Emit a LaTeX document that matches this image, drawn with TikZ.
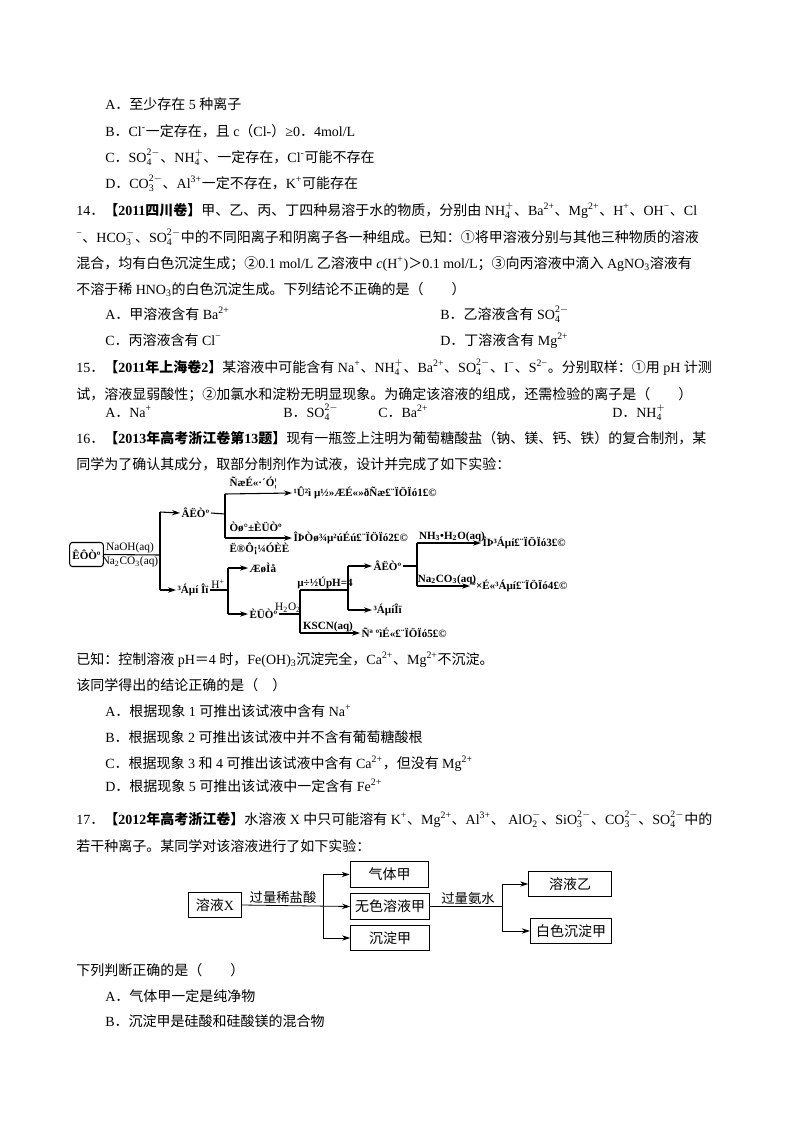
\documentclass[tikz,border=0pt]{standalone}
\usepackage{fontspec}
\setmainfont{Liberation Serif}
\newfontfamily\cjk{Noto Sans CJK SC}
\XeTeXinterchartokenstate=1
\newXeTeXintercharclass\cjkclass
\makeatletter
\count@="4E00 \loop\XeTeXcharclass\count@=\cjkclass\advance\count@ 1 \ifnum\count@<"A000 \repeat
\count@="3000 \loop\XeTeXcharclass\count@=\cjkclass\advance\count@ 1 \ifnum\count@<"3040 \repeat
\count@="FF00 \loop\XeTeXcharclass\count@=\cjkclass\advance\count@ 1 \ifnum\count@<"FF66 \repeat
\count@="2460 \loop\XeTeXcharclass\count@=\cjkclass\advance\count@ 1 \ifnum\count@<"2474 \repeat
\makeatother
\XeTeXinterchartoks 0 \cjkclass = {\cjk}
\XeTeXinterchartoks 4095 \cjkclass = {\cjk}
\XeTeXinterchartoks \cjkclass 0 = {\rmfamily}
\XeTeXinterchartoks \cjkclass 4095 = {\rmfamily}
\newcommand\up[1]{\textsuperscript{#1}}
\newcommand\dn[1]{\textsubscript{#1}}
\newcommand\ud[2]{$^{\mathrm{#1}}_{\mathrm{#2}}$}
\usetikzlibrary{arrows.meta}
\begin{document}
\begin{tikzpicture}[x=0.75pt,y=-0.75pt,
 t/.style={anchor=base west,inner sep=0,font=\fontsize{10.5pt}{12pt}\selectfont},
 g/.style={anchor=west,inner sep=1pt,font=\bfseries\fontsize{8.3pt}{9pt}\selectfont},
 gl/.style={inner sep=1pt,font=\fontsize{8.5pt}{9pt}\selectfont},
 ar/.style={-{Stealth[length=6pt,width=4pt]},line width=0.8pt},
 ln/.style={line width=0.8pt},
 bx/.style={draw,line width=0.8pt,minimum height=19pt,inner sep=2pt,font=\fontsize{10.5pt}{12pt}\selectfont},
 ar2/.style={-{Stealth[length=6pt,width=4pt]},line width=0.6pt}]
\useasboundingbox (0,0) rectangle (800,1132);
% Question block 13 options
\node[t] (l1) at (105,109) {A．至少存在 5 种离子};
\node[t] (l2) at (105,136) {B．Cl\up{-}一定存在，且 c（Cl-）≥0．4mol/L};
\node[t] (l3) at (105,162) {C．SO\ud{2-}{4}、NH\ud{+}{4}、一定存在，Cl\up{-}可能不存在};
\node[t] (l4) at (105,188) {D．CO\ud{2-}{3}、Al\up{3+}一定不存在，K\up{+}可能存在};
% 14
\node[t] (q14a) at (76,215) {14．{\bfseries【2011四川卷】}甲、乙、丙、丁四种易溶于水的物质，分别由 NH\ud{+}{4}、Ba\up{2+}、Mg\up{2+}、H\up{+}、OH\up{−}、Cl};
\node[t] (q14b) at (76,242) {\up{−}、HCO\ud{-}{3}、SO\ud{2-}{4}中的不同阳离子和阴离子各一种组成。已知：①将甲溶液分别与其他三种物质的溶液};
\node[t] (q14c) at (76,268) {混合，均有白色沉淀生成；②0.1 mol/L 乙溶液中 \textit{c}(H\up{+})＞0.1 mol/L；③向丙溶液中滴入 AgNO\dn{3}溶液有};
\node[t] (q14d) at (76,294) {不溶于稀 HNO\dn{3}的白色沉淀生成。下列结论不正确的是（　　）};
\node[t] (q14A) at (105,319) {A．甲溶液含有 Ba\up{2+}};
\node[t] (q14B) at (440,319) {B．乙溶液含有 SO\ud{2-}{4}};
\node[t] (q14C) at (105,345) {C．丙溶液含有 Cl\up{−}};
\node[t] (q14D) at (440,345) {D．丁溶液含有 Mg\up{2+}};
% 15
\node[t] (q15a) at (76,372) {15．{\bfseries【2011年上海卷2】}某溶液中可能含有 Na\up{+}、NH\ud{+}{4}、Ba\up{2+}、SO\ud{2-}{4}、I\up{−}、S\up{2−}。分别取样：①用 pH 计测};
\node[t] (q15b) at (76,399) {试，溶液显弱酸性；②加氯水和淀粉无明显现象。为确定该溶液的组成，还需检验的离子是（　　）};
\node[t] (q15A) at (105,417) {A．Na\up{+}};
\node[t] (q15B) at (283,417) {B．SO\ud{2-}{4}};
\node[t] (q15C) at (378,417) {C．Ba\up{2+}};
\node[t] (q15D) at (612,417) {D．NH\ud{+}{4}};
% 16
\node[t] (q16a) at (76,443) {16．{\bfseries【2013年高考浙江卷第13题】}现有一瓶签上注明为葡萄糖酸盐（钠、镁、钙、铁）的复合制剂，某};
\node[t] (q16b) at (76,469) {同学为了确认其成分，取部分制剂作为试液，设计并完成了如下实验：};
% diagram 1
\node[draw,rounded corners=2pt,line width=0.8pt,inner sep=2pt,minimum height=18pt,font=\bfseries\fontsize{8.3pt}{9pt}\selectfont] (sy) at (86.5,554.5) {ÊÔÒº};
\coordinate (j1) at (160,555);
\draw[ln] (sy.east) -- (j1);
\node[gl,above] at (130,555) {NaOH(aq)};
\node[gl,below] at (130,555) {Na\dn{2}CO\dn{3}(aq)};
\node[g] (ly1) at (180,513) {ÂËÒº};
\node[g] (cd1) at (176,590) {³Áµí Îï};
\draw[ln] (160,512) -- (160,590);
\draw[ar] (160,512) -- (ly1.west);
\draw[ar] (160,590) -- (cd1.west);
\coordinate (j2) at (225,514);
\draw[ln] (ly1.east) -- (j2);
\draw[ln] (225,494) -- (225,538);
\node[g] (x1) at (292,493) {¹Û²ì µ½»ÆÉ«»ðÑæ£¨ÏÖÏó1£©};
\node[g] (x2) at (292,538) {ÎÞÒø¾µ²úÉú£¨ÏÖÏó2£©};
\draw[ar] (225,494) -- (x1.west);
\draw[ar] (225,538) -- (x2.west);
\node[g] at (228,483) {ÑæÉ«·´Ó¦};
\node[g] at (228,527) {Òø°±ÈÜÒº};
\node[g] at (228,549) {Ë®Ô¡¼ÓÈÈ};
\node[gl,above] at (218,590) {H\up{+}};
\draw[ln] (cd1.east) -- (228,590);
\draw[ln] (228,568) -- (228,614);
\node[g] (qt) at (248,568) {ÆøÌå};
\node[g] (ry) at (248,614) {ÈÜÒº};
\draw[ar] (228,568) -- (qt.west);
\draw[ar] (228,614) -- (ry.west);
\draw[ln] (ry.east) -- (300,614);
\node[gl,above] at (288,614) {H\dn{2}O\dn{2}};
\draw[ln] (300,590) -- (300,633);
\draw[ln] (300,590) -- (348,590);
\node[g,above] at (325,590) {µ÷½ÚpH=4};
\draw[ln] (348,566) -- (348,610);
\node[g] (ly2) at (372,566) {ÂËÒº};
\node[g] (cd2) at (372,610) {³ÁµíÎï};
\draw[ar] (348,566) -- (ly2.west);
\draw[ar] (348,610) -- (cd2.west);
\node[g] (x5) at (360,633) {Ñª ºìÉ«£¨ÏÖÏó5£©};
\draw[ar] (300,633) -- (x5.west);
\node[g,above] at (328,633) {KSCN(aq)};
\draw[ln] (ly2.east) -- (417,566);
\draw[ln] (417,543) -- (417,586);
\node[g] (x3) at (481,543) {ÎÞ³Áµí£¨ÏÖÏó3£©};
\node[g] (x4) at (470,586) {°×É«³Áµí£¨ÏÖÏó4£©};
\draw[ar] (417,543) -- (x3.west);
\draw[ar] (417,586) -- (x4.west);
\node[g,above] at (452,543) {NH\dn{3}•H\dn{2}O(aq)};
\node[g,above] at (447,586) {Na\dn{2}CO\dn{3}(aq)};
% after
\node[t] (k1) at (76,664) {已知：控制溶液 pH＝4 时，Fe(OH)\dn{3}沉淀完全，Ca\up{2+}、Mg\up{2+}不沉淀。};
\node[t] (k2) at (76,690) {该同学得出的结论正确的是（　）};
\node[t] (k3) at (105,716) {A．根据现象 1 可推出该试液中含有 Na\up{+}};
\node[t] (k4) at (105,742) {B．根据现象 2 可推出该试液中并不含有葡萄糖酸根};
\node[t] (k5) at (105,768) {C．根据现象 3 和 4 可推出该试液中含有 Ca\up{2+}，但没有 Mg\up{2+}};
\node[t] (k6) at (105,791) {D．根据现象 5 可推出该试液中一定含有 Fe\up{2+}};
% 17
\node[t] (q17a) at (76,824) {17．{\bfseries【2012年高考浙江卷】}水溶液 X 中只可能溶有 K\up{+}、Mg\up{2+}、Al\up{3+}、 AlO\ud{-}{2}、SiO\ud{2-}{3}、CO\ud{2-}{3}、SO\ud{2-}{4}中的};
\node[t] (q17b) at (76,851) {若干种离子。某同学对该溶液进行了如下实验：};
% diagram 2
\node[bx,minimum width=40pt] (X) at (215,905) {溶液X};
\node[bx,minimum width=59pt] (Q) at (389.5,874.5) {气体甲};
\node[bx,minimum width=59pt] (W) at (390,906.5) {无色溶液甲};
\node[bx,minimum width=59pt] (C) at (390,938) {沉淀甲};
\node[bx,minimum width=62pt] (Y) at (570,884) {溶液乙};
\node[bx,minimum width=61pt] (B) at (571,931) {白色沉淀甲};
\draw[ar2] (X.east) -- (W.west);
\node[font=\fontsize{10pt}{12pt}\selectfont,inner sep=1pt,above] at (283,905) {过量稀盐酸};
\draw[line width=0.6pt] (323,874.5) -- (323,938);
\draw[ar2] (323,874.5) -- (Q.west);
\draw[ar2] (323,938) -- (C.west);
\draw[line width=0.6pt] (W.east) -- (502,906.5);
\node[font=\fontsize{10pt}{12pt}\selectfont,inner sep=1pt,above] at (468,906.5) {过量氨水};
\draw[line width=0.6pt] (502,884) -- (502,931);
\draw[ar2] (502,884) -- (Y.west);
\draw[ar2] (502,931) -- (B.west);
% after 17
\node[t] (m1) at (76,975) {下列判断正确的是（　　）};
\node[t] (m2) at (105,1001) {A．气体甲一定是纯净物};
\node[t] (m3) at (105,1026) {B．沉淀甲是硅酸和硅酸镁的混合物};
\end{tikzpicture}
\end{document}
